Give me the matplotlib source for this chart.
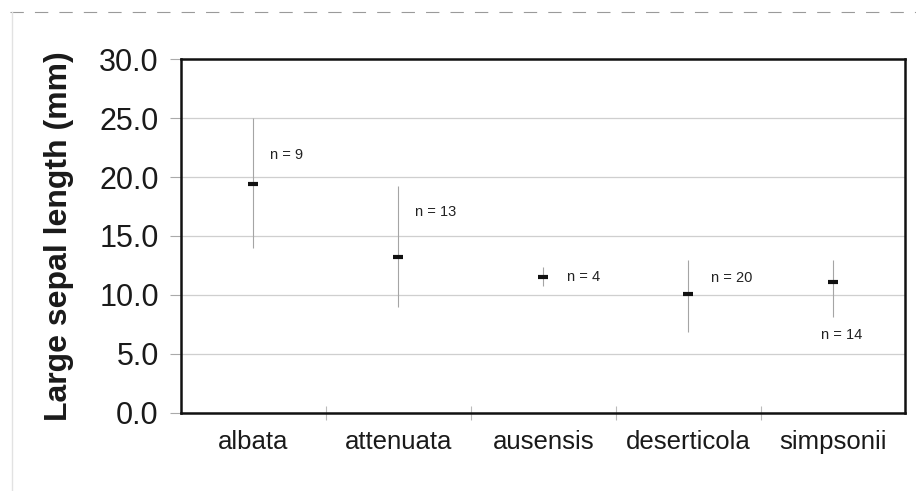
import numpy as np
import matplotlib
matplotlib.use("Agg")
import matplotlib.pyplot as plt
from matplotlib.lines import Line2D

# -----------------------------------------------------
# Data: sepal length per species (mean, min, max)
# -----------------------------------------------------

species = ["albata", "attenuata", "ausensis", "deserticola", "simpsonii"]
mean_len = [19.4, 13.2, 11.5, 10.1, 11.1]
min_len = [14.0, 9.0, 10.8, 6.9, 8.1]
max_len = [25.0, 19.2, 12.4, 13.0, 13.0]
n_counts = [9, 13, 4, 20, 14]

# where each "n = .." note sits (x offset from species, y in mm)
note_dx = [0.23, 0.26, 0.28, 0.30, 0.06]
note_y = [21.9, 17.0, 11.5, 11.4, 6.6]

y_ticks = [0, 5, 10, 15, 20, 25, 30]

plt.rcParams["font.family"] = ["Liberation Sans", "DejaVu Sans"]

fig = plt.figure(figsize=(9.16, 4.91), dpi=100)
ax = fig.add_axes([0.1976, 0.1589, 0.7909, 0.7209])

x = np.arange(len(species))

# range lines
ax.vlines(x, min_len, max_len, color="#a5a5a5", lw=0.8, zorder=2)

# mean dashes
ax.plot(x, mean_len, linestyle="none", marker="_", markersize=7,
        markeredgewidth=3, color="#111111", zorder=3)

for i in range(len(species)):
    ax.text(x[i] + note_dx[i], note_y[i], "n = {}".format(n_counts[i]),
            fontsize=10.5, ha="center", va="center", color="#222222")

ax.set_xlim(-0.5, len(species) - 0.5)
ax.set_ylim(0, 30)

ax.set_yticks(y_ticks)
ax.set_yticklabels(["{:.1f}".format(v) for v in y_ticks], fontsize=22,
                   color="#1a1a1a")
ax.tick_params(axis="y", direction="out", length=8, width=0.8,
               color="#aaaaaa", pad=8)

ax.set_xticks(x)
ax.set_xticklabels(species, fontsize=18.5, color="#1a1a1a")
ax.tick_params(axis="x", which="major", length=0, pad=12)
ax.set_xticks(x[:-1] + 0.5, minor=True)
ax.tick_params(axis="x", which="minor", direction="inout", length=10,
               width=0.8, color="#bbbbbb")

ax.yaxis.grid(True, color="#cfcfcf", lw=0.9)
ax.set_axisbelow(True)

for side in ["left", "right", "top", "bottom"]:
    ax.spines[side].set_linewidth(1.8)
    ax.spines[side].set_color("#111111")

ax.set_ylabel("Large sepal length (mm)", fontsize=23, fontweight="bold",
              color="#1a1a1a", labelpad=18)

# faint outer chart border
fig.add_artist(Line2D([10 / 916, 1.0], [1 - 12 / 491, 1 - 12 / 491],
                      transform=fig.transFigure, color="#9a9a9a",
                      lw=0.8, linestyle=(0, (12, 10))))
fig.add_artist(Line2D([12 / 916, 12 / 916], [0.0, 1 - 12 / 491],
                      transform=fig.transFigure, color="#e2e2e2", lw=1.0))

plt.savefig("out.png", dpi=100)
